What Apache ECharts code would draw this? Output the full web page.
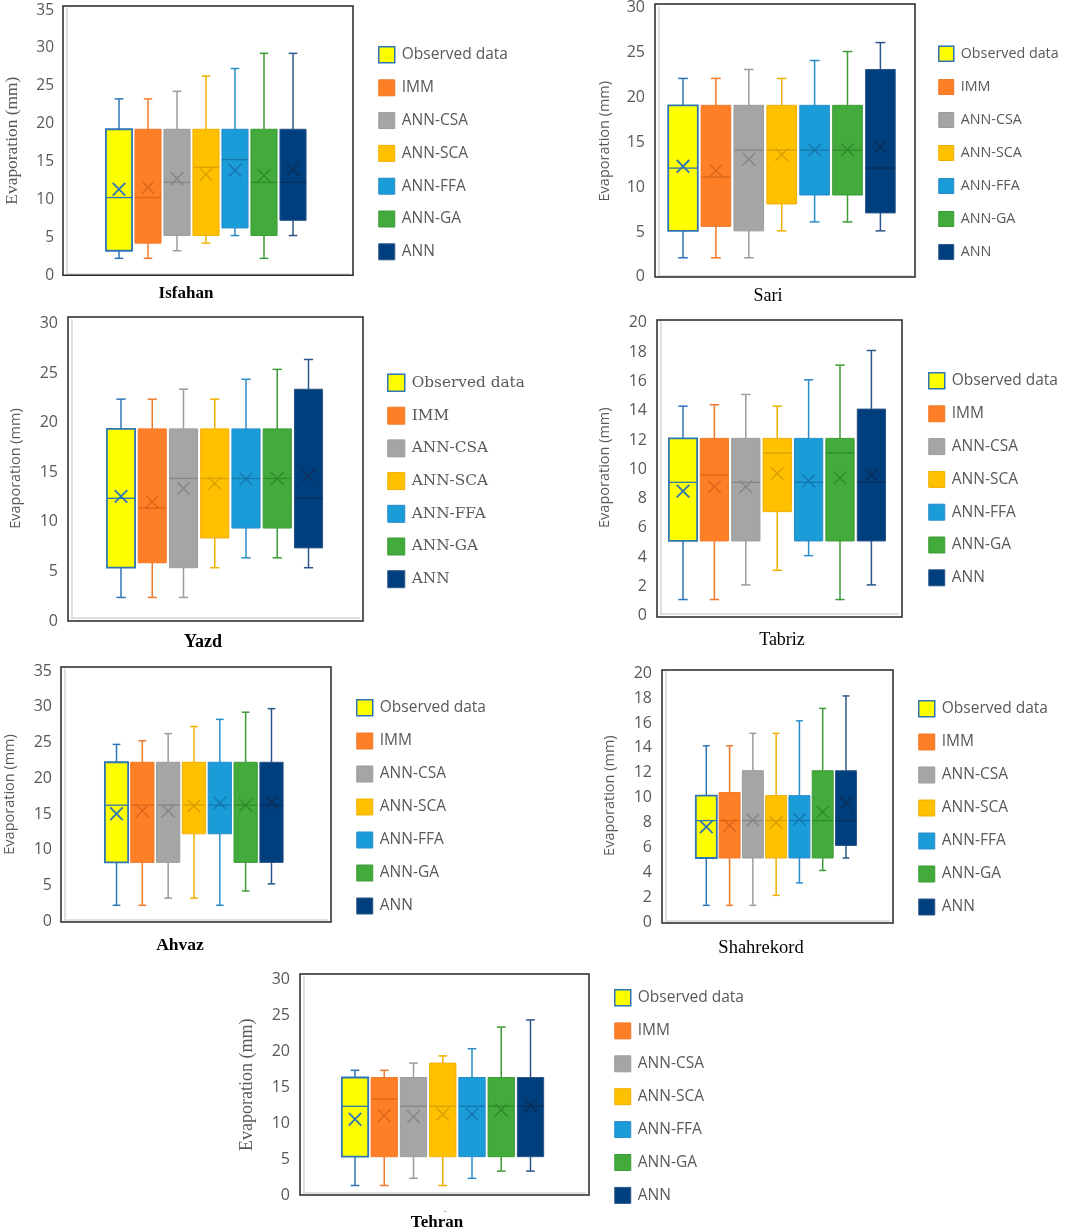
<!DOCTYPE html>
<html><head><meta charset="utf-8">
<script src="https://cdn.jsdelivr.net/npm/echarts@6/dist/echarts.min.js"></script>
<style>html,body{margin:0;padding:0;background:#fff}#c{width:1072px;height:1231px}</style>
</head><body><div id="c"></div>
<script>
// ---------------- DATA ----------------
const MODELS = ['Observed data', 'IMM', 'ANN-CSA', 'ANN-SCA', 'ANN-FFA', 'ANN-GA', 'ANN'];
const STATIONS = ['Isfahan', 'Sari', 'Yazd', 'Tabriz', 'Ahvaz', 'Shahrekord', 'Tehran'];
// each row: [min, Q1, median, Q3, max, mean] per model (in MODELS order)
const isfahanStats = [
  [2, 3, 10, 19, 23, 11.1],
  [2, 4, 10, 19, 23, 11.35],
  [3, 5, 12, 19, 24, 12.5],
  [4, 5, 14, 19, 26, 13.05],
  [5, 6, 15, 19, 27, 13.6],
  [2, 5, 12, 19, 29, 12.9],
  [5, 7, 12, 19, 29, 13.7]
];
const sariStats = [
  [2, 5, 12, 19, 22, 12.2],
  [2, 5.5, 11, 19, 22, 11.7],
  [2, 5, 14, 19, 23, 13.0],
  [5, 8, 14, 19, 22, 13.5],
  [6, 9, 14, 19, 24, 14.0],
  [6, 9, 14, 19, 25, 14.05],
  [5, 7, 12, 23, 26, 14.35]
];
const yazdStats = [
  [2, 5, 12, 19, 22, 12.2],
  [2, 5.5, 11, 19, 22, 11.65],
  [2, 5, 14, 19, 23, 13.0],
  [5, 8, 14, 19, 22, 13.5],
  [6, 9, 14, 19, 24, 13.95],
  [6, 9, 14, 19, 25, 14.0],
  [5, 7, 12, 23, 26, 14.3]
];
const tabrizStats = [
  [1, 5, 9, 12, 14.2, 8.4],
  [1, 5, 9.5, 12, 14.3, 8.7],
  [2, 5, 9, 12, 15, 8.7],
  [3, 7, 11, 12, 14.2, 9.6],
  [4, 5, 9, 12, 16, 9.1],
  [1, 5, 11, 12, 17, 9.3],
  [2, 5, 9, 14, 18, 9.5]
];
const ahvazStats = [
  [2, 8, 16, 22, 24.5, 14.8],
  [2, 8, 16, 22, 25, 15.2],
  [3, 8, 16, 22, 26, 15.2],
  [3, 12, 16, 22, 27, 15.9],
  [2, 12, 16, 22, 28, 16.3],
  [4, 8, 16, 22, 29, 16.0],
  [5, 8, 16, 22, 29.5, 16.4]
];
const shahrekordStats = [
  [1.2, 5, 8, 10, 14, 7.5],
  [1.2, 5, 8, 10.25, 14, 7.6],
  [1.2, 5, 8, 12, 15, 8.05],
  [2, 5, 8, 10, 15, 7.85],
  [3, 5, 8, 10, 16, 8.1],
  [4, 5, 8, 12, 17, 8.7],
  [5, 6, 8, 12, 18, 9.4]
];
const tehranStats = [
  [1, 5, 12, 16, 17, 10.2],
  [1, 5, 13, 16, 17, 10.7],
  [2, 5, 12, 16, 18, 10.55],
  [1, 5, 12, 18, 19, 10.9],
  [2, 5, 12, 16, 20, 10.9],
  [3, 5, 12, 16, 23, 11.5],
  [3, 5, 12, 16, 24, 12.1]
];
const ticks35 = [0, 5, 10, 15, 20, 25, 30, 35];
const ticks30 = [0, 5, 10, 15, 20, 25, 30];
const ticks20 = [0, 2, 4, 6, 8, 10, 12, 14, 16, 18, 20];
const Y_NAME = 'Evaporation (mm)';

const STATS = [isfahanStats, sariStats, yazdStats, tabrizStats, ahvazStats, shahrekordStats, tehranStats];
const TICKS = [ticks35, ticks30, ticks30, ticks20, ticks35, ticks20, ticks30];

// ---------------- STYLE / LAYOUT ----------------
const FILL = ['#FFFF00', '#FF7F27', '#A5A5A5', '#FFC000', '#1A9CD8', '#43AB3C', '#003F7D'];
const LINE = ['#2E75B6', '#F07A2A', '#9C9C9C', '#F0B000', '#2A8BC9', '#3D9B36', '#2B5689'];
const MARK = ['#2E75B6', '#D9661A', '#858585', '#D9A000', '#1677AC', '#2F8A2A', '#0A2E58'];
const SANS = "'Open Sans', 'Noto Sans', sans-serif";
const SERIF = "'Liberation Serif', 'DejaVu Serif', serif";
const WIDE_SERIF = "'DejaVu Serif', 'Liberation Serif', serif";
const INSET = 3.5;
const BOX_FRAC = 0.9;
const LABEL_BASE_DY = 0.8;
const LEGEND_GAP_FIX = 1;

// frame [L,T,R,B], y0 = pixel of 0 tick, yTop = pixel of top tick, c0/sp = first box centre & spacing
const LAYOUT = [
  {frame:[63,6,353,275.3], y0:273.5, yTop:7.8, c0:119, sp:29, labR:54, lFs:15.5, dy:1.5,
   yName:{cx:12, font:SERIF, fs:17.4}, title:{cx:186, cy:294, bold:true, fs:17},
   legend:{left:378, cy:54, fs:15.5, sq:16, row:32.8, font:SANS}},
  {frame:[655,4,915,277], y0:275.7, yTop:6.7, c0:683, sp:32.9, labR:645, lFs:16, dy:0.4,
   yName:{cx:605, font:SANS, fs:14.5}, title:{cx:768, cy:296, bold:false, fs:18},
   legend:{left:938, cy:53, fs:14.3, sq:15, row:33, font:SANS}},
  {frame:[68,317,363,621], y0:617.3, yTop:319.8, c0:121, sp:31.25, labR:58, lFs:16, dy:3,
   yName:{cx:16, font:SANS, fs:14.5}, title:{cx:203, cy:642, bold:true, fs:18},
   legend:{left:387, cy:382, fs:15.3, sq:17, row:32.7, font:WIDE_SERIF}},
  {frame:[657,320,902,617], y0:614.2, yTop:321.2, c0:683, sp:31.4, labR:647, lFs:16, dy:0.8,
   yName:{cx:605, font:SANS, fs:14.5}, title:{cx:782, cy:640, bold:false, fs:18},
   legend:{left:928, cy:380, fs:15.5, sq:16, row:32.8, font:SANS}},
  {frame:[61,667,331,922], y0:919.6, yTop:669.3, c0:116.5, sp:25.83, labR:52, lFs:16, dy:1,
   yName:{cx:10, font:SANS, fs:14.5}, title:{cx:180, cy:945, bold:true, fs:17.5},
   legend:{left:356, cy:707, fs:15.5, sq:16, row:33, font:SANS}},
  {frame:[662,670,893,923], y0:920.3, yTop:671, c0:706.3, sp:23.28, labR:652, lFs:16, dy:1.3,
   yName:{cx:610, font:SANS, fs:14.5}, title:{cx:761, cy:948, bold:false, fs:18.5},
   legend:{left:918, cy:708, fs:15.5, sq:16, row:33, font:SANS}},
  {frame:[300,974,589,1195], y0:1192.7, yTop:976.7, c0:355, sp:29.25, labR:290, lFs:16, dy:1.7,
   yName:{cx:247, font:SERIF, fs:18}, title:{cx:437, cy:1223, bold:true, fs:17},
   legend:{left:614, cy:997, fs:15.5, sq:16, row:32.9, font:SANS}}
];

function renderBox(params, api) {
  const m = Math.round(api.value(0));
  const lo = api.coord([m, api.value(1)]);
  const q1 = api.coord([m, api.value(2)]);
  const med = api.coord([m, api.value(3)]);
  const q3 = api.coord([m, api.value(4)]);
  const hi = api.coord([m, api.value(5)]);
  const mean = api.coord([m, api.value(6)]);
  const w = api.size([BOX_FRAC, 0])[0];
  const cx = lo[0];
  const cap = w * 0.33;
  const h = 6.3;
  const ls = {stroke: LINE[m], lineWidth: 1.5};
  const ms = {stroke: MARK[m], lineWidth: m === 0 ? 1.8 : 1.4};
  return {
    type: 'group',
    children: [
      {type:'line', shape:{x1:cx, y1:hi[1], x2:cx, y2:q3[1]}, style:ls},
      {type:'line', shape:{x1:cx, y1:q1[1], x2:cx, y2:lo[1]}, style:ls},
      {type:'line', shape:{x1:cx-cap/2, y1:hi[1], x2:cx+cap/2, y2:hi[1]}, style:ls},
      {type:'line', shape:{x1:cx-cap/2, y1:lo[1], x2:cx+cap/2, y2:lo[1]}, style:ls},
      {type:'rect', shape:{x:cx-w/2, y:q3[1], width:w, height:q1[1]-q3[1]},
       style:{fill:FILL[m], stroke:LINE[m], lineWidth: m === 0 ? 1.8 : 1}},
      {type:'line', shape:{x1:cx-w/2, y1:med[1], x2:cx+w/2, y2:med[1]}, style:{stroke:MARK[m], lineWidth:1.3}},
      {type:'line', shape:{x1:cx-h, y1:mean[1]-h, x2:cx+h, y2:mean[1]+h}, style:ms},
      {type:'line', shape:{x1:cx-h, y1:mean[1]+h, x2:cx+h, y2:mean[1]-h}, style:ms}
    ]
  };
}

const grid = [], xAxis = [], yAxis = [], series = [], legend = [], graphic = [];
STATIONS.forEach((st, p) => {
  const L = LAYOUT[p];
  const [fl, ft, fr, fb] = L.frame;
  const gl = fl + INSET, gr = fr - INSET;
  grid.push({left: gl, top: L.yTop, width: gr - gl, height: L.y0 - L.yTop, show: false, containLabel: false, outerBoundsMode: 'none'});
  xAxis.push({type:'value', gridIndex:p, min:(gl - L.c0)/L.sp, max:(gr - L.c0)/L.sp,
    axisLine:{show:true, onZero:false, lineStyle:{color:'#d6d6d6', width:1.5}},
    axisTick:{show:false}, axisLabel:{show:false}, splitLine:{show:false}});
  const t = TICKS[p];
  const dy = L.dy + LABEL_BASE_DY;
  yAxis.push({type:'value', gridIndex:p, min:t[0], max:t[t.length-1], interval:t[1]-t[0],
    axisLine:{show:true, onZero:false, lineStyle:{color:'#d6d6d6', width:1.5}},
    axisTick:{show:false}, splitLine:{show:false},
    axisLabel:{margin: gl - L.labR, formatter: v => '{a|' + v + '}',
      rich:{a:{color:'#595959', fontFamily:SANS, fontSize:L.lFs, padding:[2*dy,0,0,0]}}},
    name: Y_NAME, nameLocation:'middle', nameRotate:90,
    nameGap: gl - L.yName.cx - L.yName.fs/2,
    nameTextStyle:{color:'#595959', fontFamily:L.yName.font, fontSize:L.yName.fs}});
  STATS[p].forEach((row, m) => {
    series.push({type:'custom', name:MODELS[m], xAxisIndex:p, yAxisIndex:p, renderItem:renderBox,
      data:[[m].concat(row)], encode:{x:0, y:[1,2,3,4,5,6]}, itemStyle:{color:FILL[m]},
      silent:true, animation:false, clip:false});
  });
  const lg = L.legend;
  legend.push({orient:'vertical', left:lg.left, top:lg.cy - lg.sq/2, padding:0,
    itemWidth:lg.sq, itemHeight:lg.sq, itemGap: lg.row - lg.sq - LEGEND_GAP_FIX, icon:'rect', selectedMode:false,
    textStyle:{color:'#595959', fontFamily:lg.font, fontSize:lg.fs, lineHeight:lg.sq, padding:[0,0,0,2]},
    data: MODELS.map((n, m) => ({name:n, itemStyle:{color:FILL[m], borderColor:LINE[m], borderWidth: m === 0 ? 1.5 : 1}}))});
  graphic.push({type:'rect', silent:true, shape:{x:fl, y:ft, width:fr-fl, height:fb-ft},
    style:{fill:'none', stroke:'#262626', lineWidth:1.5}, z:100});
  graphic.push({type:'text', silent:true, x:L.title.cx, y:L.title.cy,
    style:{text:st, fill:'#000', font:(L.title.bold ? 'bold ' : '') + L.title.fs + 'px ' + SERIF,
      align:'center', verticalAlign:'middle', textAlign:'center', textVerticalAlign:'middle'}});
});
// small stray dash under the Tehran panel, as in the source figure
graphic.push({type:'text', silent:true, x:445, y:1211,
  style:{text:'-', fill:'#999', font:'10px ' + SANS, align:'center', verticalAlign:'middle', textAlign:'center', textVerticalAlign:'middle'}});

const chart = echarts.init(document.getElementById('c'), null, {renderer:'canvas'});
chart.setOption({backgroundColor:'#fff', animation:false, grid, xAxis, yAxis, series, legend, graphic});
</script></body></html>
